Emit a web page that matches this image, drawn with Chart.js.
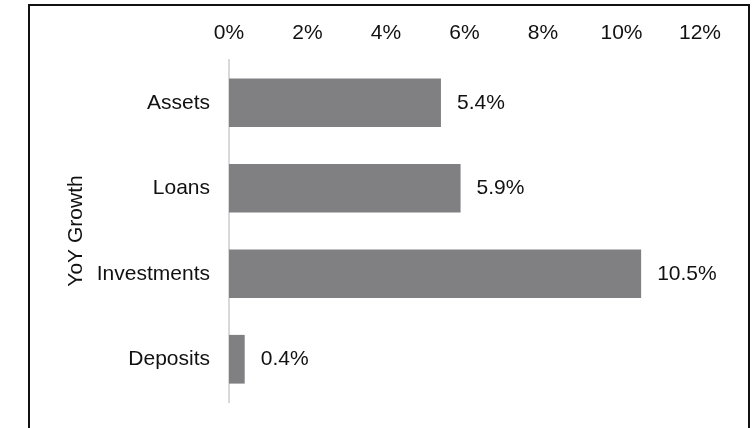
<!DOCTYPE html>
<html>
<head>
<meta charset="utf-8">
<script src="https://cdn.jsdelivr.net/npm/chart.js@4"></script>
<style>
  html, body { margin: 0; padding: 0; background: #fff; overflow: hidden; }
  #wrap { position: relative; width: 754px; height: 428px; }
  #frame {
    position: absolute; left: 28px; top: 4px; width: 718px; height: 440px;
    border: 2px solid #111; pointer-events: none;
  }
  canvas { position: absolute; left: 0; top: 0; }
</style>
</head>
<body>
<div id="wrap">
  <canvas id="myChart" width="754" height="428"></canvas>
  <div id="frame"></div>
</div>
<script>
const categories = ["Assets", "Loans", "Investments", "Deposits"];
const growth = [5.4, 5.9, 10.5, 0.4];
const xTicks = [0, 2, 4, 6, 8, 10, 12];
const axisTitle = "YoY Growth";

const FONT = "Arial, 'Liberation Sans', sans-serif";

// value labels to the right of each bar
const barLabels = {
  id: "barLabels",
  afterDatasetsDraw(chart) {
    const ctx = chart.ctx;
    const meta = chart.getDatasetMeta(0);
    ctx.save();
    ctx.font = "21px " + FONT;
    ctx.fillStyle = "#111";
    ctx.textAlign = "left";
    ctx.textBaseline = "middle";
    meta.data.forEach((bar, i) => {
      ctx.fillText(growth[i].toFixed(1) + "%", bar.x + 16, bar.y);
    });
    ctx.restore();
  }
};

const ctx = document.getElementById("myChart");

new Chart(ctx, {
  type: "bar",
  data: {
    labels: categories,
    datasets: [{
      data: growth,
      backgroundColor: "#808083",
      borderWidth: 0,
      barPercentage: 0.57,
      categoryPercentage: 1
    }]
  },
  options: {
    indexAxis: "y",
    responsive: false,
    animation: false,
    layout: { padding: { left: 60, right: 54, top: 0, bottom: 26 } },
    plugins: {
      legend: { display: false },
      tooltip: { enabled: false }
    },
    scales: {
      x: {
        position: "top",
        min: xTicks[0],
        max: xTicks[xTicks.length - 1],
        afterBuildTicks: s => { s.ticks = xTicks.map(v => ({ value: v })); },
        afterFit: s => { s.height = 60; },
        grid: { display: false, drawTicks: false },
        border: { display: false },
        ticks: {
          padding: 14,
          color: "#111",
          font: { family: FONT, size: 21 },
          callback: v => v + "%"
        }
      },
      y: {
        // fixed width, and no extra room reserved for the end labels
        afterFit: s => { s.width = 169; s.paddingTop = 0; s.paddingBottom = 0; },
        grid: { display: false, drawTicks: false },
        border: { display: true, color: "#d9d9d9", width: 2 },
        ticks: {
          padding: 19,
          color: "#111",
          font: { family: FONT, size: 21 }
        },
        title: {
          display: true,
          text: axisTitle,
          color: "#111",
          font: { family: FONT, size: 21 }
        }
      }
    }
  },
  plugins: [barLabels]
});
</script>
</body>
</html>
